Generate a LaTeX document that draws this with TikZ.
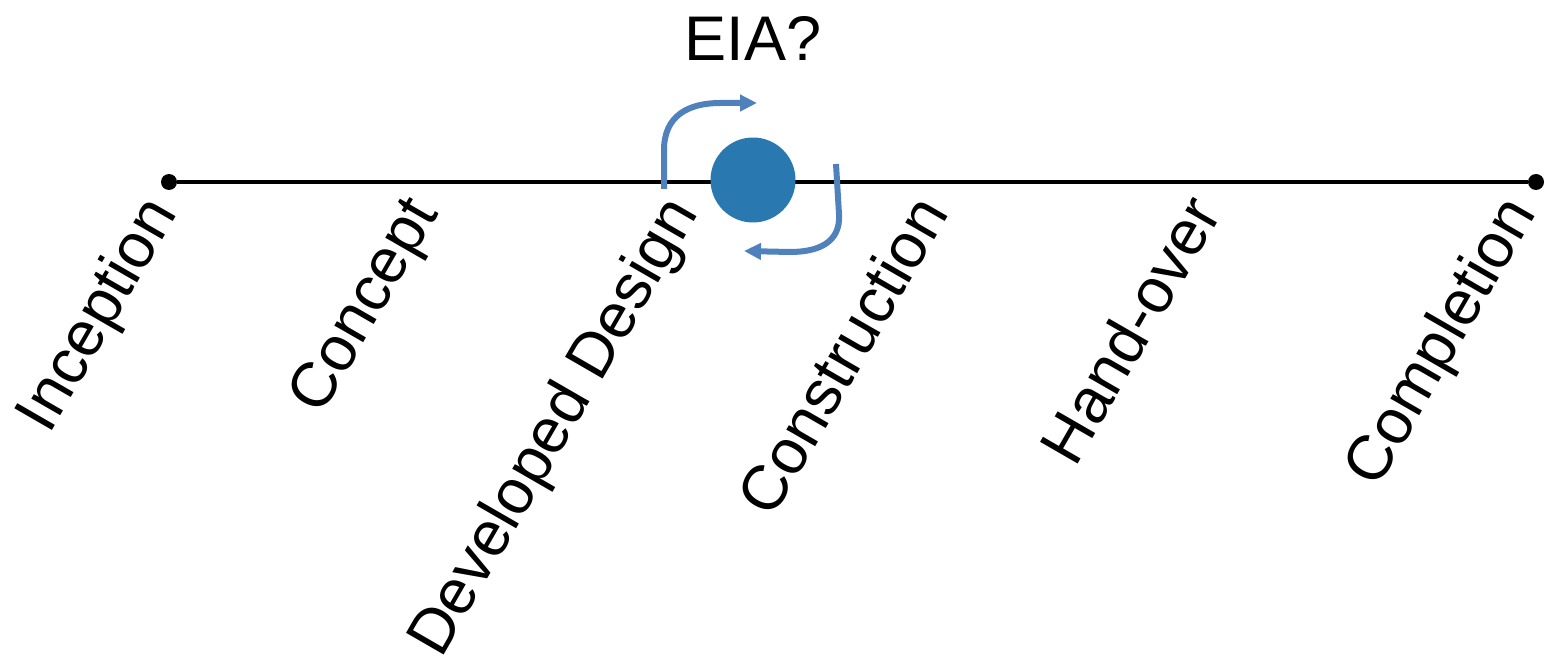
\documentclass[tikz,border=0pt]{standalone}
\usepackage{fontspec}
\setmainfont{Liberation Sans}
\usetikzlibrary{arrows.meta}

\definecolor{eiablue}{RGB}{41,120,176}
\definecolor{loopblue}{RGB}{79,129,189}

\tikzset{
	stage/.style={anchor=base east, rotate=60, inner sep=0pt, font=\fontsize{35.9}{43}\selectfont},
	enddot/.style={circle, fill=black, inner sep=0pt, minimum size=0.32cm},
	looparrow/.style={loopblue, line width=0.12cm, -{Triangle[length=0.34cm, width=0.32cm]}}
}

\begin{document}
\begin{tikzpicture}[x=0.02cm, y=-0.02cm]
	\useasboundingbox (0,0) rectangle (1545,662);
	\pgfmathsetmacro\LY{182}
	\pgfmathsetmacro\TY{213}

	% time line
	\node[enddot] (start) at (169,\LY) {};
	\node[enddot] (finish) at (1536,\LY) {};
	\draw[line width=0.09cm] (start) -- (finish);

	% stages
	\node[stage] (inception) at (178,\TY) {Inception};
	\node[stage] (concept) at (439,\TY) {Concept};
	\node[stage] (design) at (699,\TY) {Developed Design};
	\node[stage] (construction) at (950,\TY) {Construction};
	\node[stage] (handover) at (1223,\TY) {Hand-over};
	\node[stage] (completion) at (1537,\TY) {Completion};

	% EIA
	\node[circle, fill=eiablue, inner sep=0pt, minimum size=1.7cm] (eia) at (753,180) {};
	\node[anchor=base, inner sep=0pt, font=\fontsize{35.9}{43}\selectfont] (eialabel) at (753,61) {EIA?};

	\coordinate (upA) at (664,189);
	\coordinate (upB) at (757,103);
	\coordinate (lowA) at (836,164);
	\coordinate (lowB) at (744,251);
	\draw[looparrow] (upA) -- (664,150) .. controls (664,116) and (688,103) .. (720,103) -- (upB);
	\draw[looparrow] (lowA) -- (839,214) .. controls (841,244) and (816,252) .. (790,252) -- (lowB);
\end{tikzpicture}
\end{document}
